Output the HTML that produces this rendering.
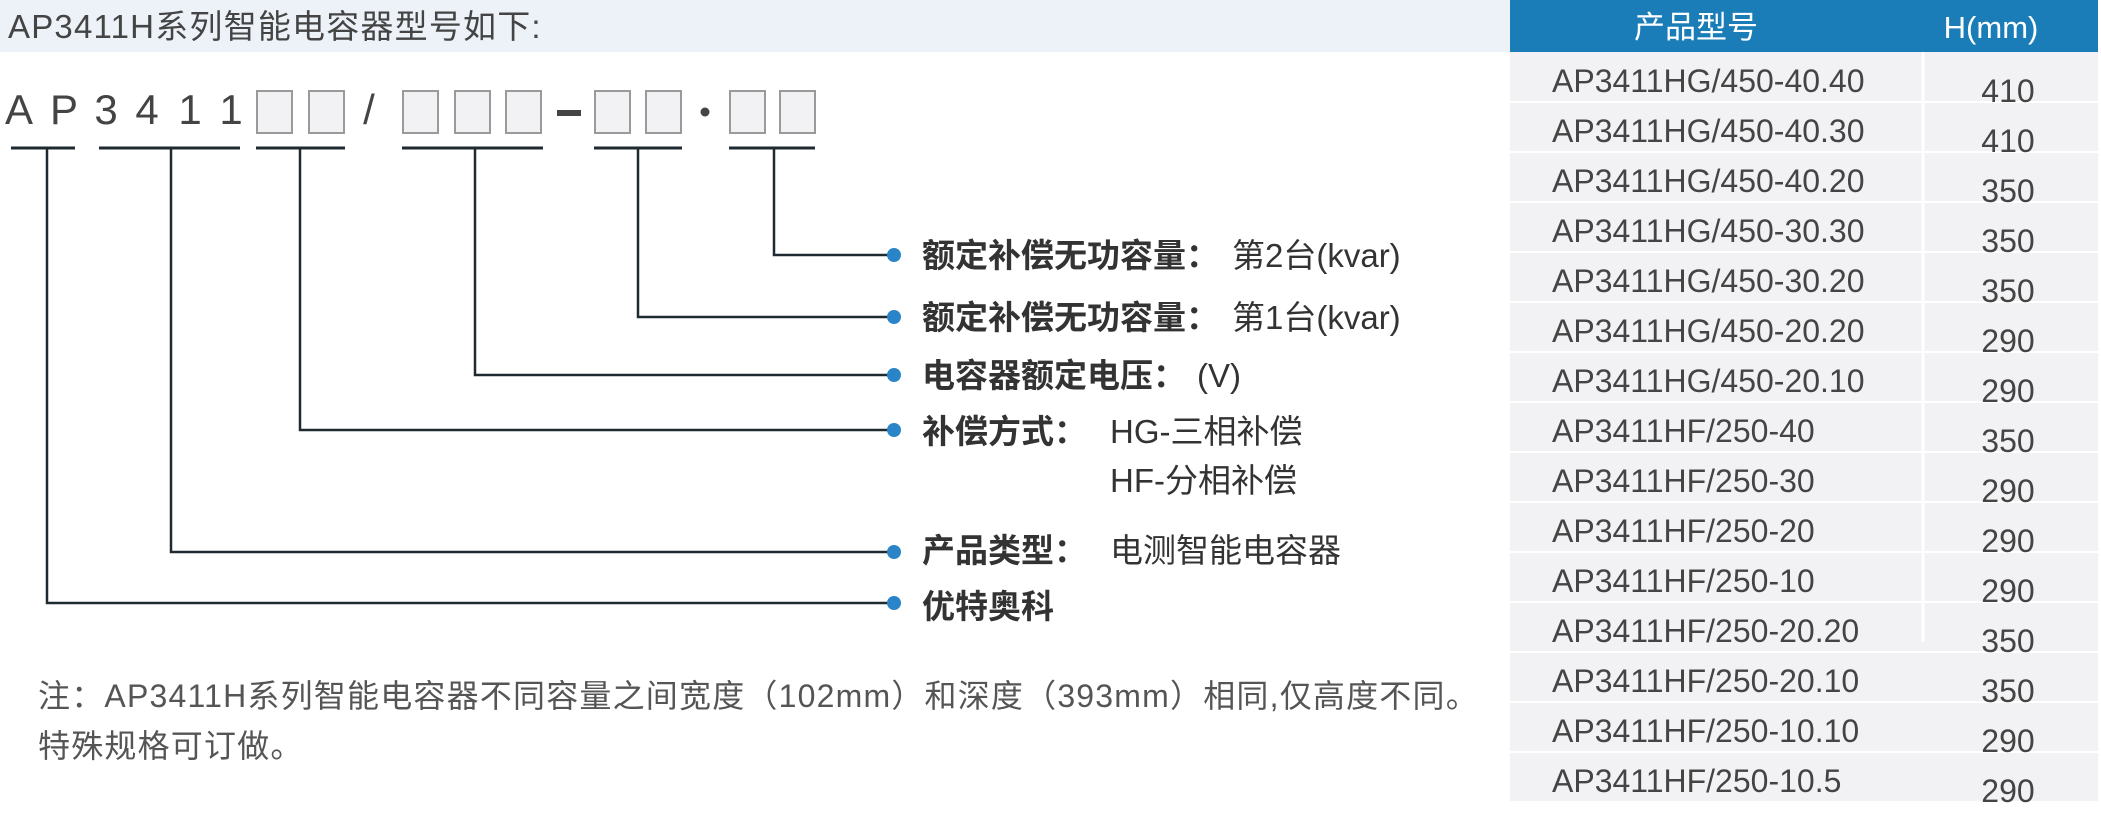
<!DOCTYPE html>
<html><head><meta charset="utf-8"><style>
html,body{margin:0;padding:0;background:#fff;}
svg{display:block;}
.t{font-family:"Liberation Sans","Noto Sans CJK SC",sans-serif;}
</style></head><body>
<svg width="2101" height="819" viewBox="0 0 2101 819" xmlns="http://www.w3.org/2000/svg">
<!-- title band -->
<rect x="0" y="0" width="1510" height="52" fill="#edf2f9"/>
<text class="t" x="8" y="38" font-size="33" letter-spacing="1.2" fill="#444">AP3411H系列智能电容器型号如下:</text>

<!-- code letters -->
<g class="t" font-size="42" fill="#444" text-anchor="middle">
<text x="19" y="124">A</text><text x="64" y="124">P</text><text x="106" y="124">3</text>
<text x="147" y="124">4</text><text x="190" y="124">1</text><text x="231" y="124">1</text>
<text x="369" y="124">/</text>
</g>
<g fill="#f2f2f4" stroke="#9a9a9a" stroke-width="2">
<rect x="257" y="91" width="35" height="42"/><rect x="309" y="91" width="35" height="42"/>
<rect x="403" y="91" width="35" height="42"/><rect x="455" y="91" width="35" height="42"/><rect x="506" y="91" width="35" height="42"/>
<rect x="595" y="91" width="35" height="42"/><rect x="646" y="91" width="35" height="42"/>
<rect x="730" y="91" width="35" height="42"/><rect x="780" y="91" width="35" height="42"/>
</g>
<rect x="557" y="110" width="24" height="6" fill="#444"/>
<circle cx="705" cy="112" r="4.5" fill="#444"/>

<!-- underlines -->
<g stroke="#1f2a30" stroke-width="3">
<line x1="11" y1="148" x2="75" y2="148"/><line x1="99" y1="148" x2="240" y2="148"/>
<line x1="256" y1="148" x2="345" y2="148"/><line x1="402" y1="148" x2="543" y2="148"/>
<line x1="594" y1="148" x2="682" y2="148"/><line x1="729" y1="148" x2="815" y2="148"/>
</g>
<g stroke="#1f2a30" stroke-width="2.5" fill="none">
<polyline points="774,148 774,255 890,255"/>
<polyline points="638,148 638,317 890,317"/>
<polyline points="475,148 475,375 890,375"/>
<polyline points="300,148 300,430 890,430"/>
<polyline points="171,148 171,552 890,552"/>
<polyline points="47,148 47,603 890,603"/>
</g>
<g fill="#2a85c8">
<circle cx="894" cy="255" r="7"/><circle cx="894" cy="317" r="7"/><circle cx="894" cy="375" r="7"/>
<circle cx="894" cy="430" r="7"/><circle cx="894" cy="552" r="7"/><circle cx="894" cy="603" r="7"/>
</g>
<g class="t" font-size="33" fill="#333">
<text x="922" y="267"><tspan font-weight="bold">额定补偿无功容量：</tspan><tspan x="1232">第2台(kvar)</tspan></text>
<text x="922" y="329"><tspan font-weight="bold">额定补偿无功容量：</tspan><tspan x="1232">第1台(kvar)</tspan></text>
<text x="922" y="387"><tspan font-weight="bold">电容器额定电压：</tspan><tspan x="1197">(V)</tspan></text>
<text x="922" y="443"><tspan font-weight="bold">补偿方式：</tspan><tspan x="1110">HG-三相补偿</tspan></text>
<text x="1110" y="492">HF-分相补偿</text>
<text x="922" y="562"><tspan font-weight="bold">产品类型：</tspan><tspan x="1110">电测智能电容器</tspan></text>
<text x="922" y="618" font-weight="bold">优特奥科</text>
</g>
<g class="t" font-size="32" fill="#555" letter-spacing="1.2">
<text x="38" y="707">注：AP3411H系列智能电容器不同容量之间宽度（102mm）和深度（393mm）相同,仅高度不同。</text>
<text x="38" y="757">特殊规格可订做。</text>
</g>

<!-- table -->
<rect x="1510" y="0" width="588" height="52" fill="#1a7db8"/>
<g class="t" font-size="31" fill="#fff" text-anchor="middle">
<text x="1696" y="38">产品型号</text><text x="1991" y="38">H(mm)</text>
</g>
<g fill="#f2f2f4">
<rect x="1510" y="52" width="588" height="49"/><rect x="1510" y="103" width="588" height="48"/>
<rect x="1510" y="153" width="588" height="48"/><rect x="1510" y="203" width="588" height="48"/>
<rect x="1510" y="253" width="588" height="48"/><rect x="1510" y="303" width="588" height="48"/>
<rect x="1510" y="353" width="588" height="48"/><rect x="1510" y="403" width="588" height="48"/>
<rect x="1510" y="453" width="588" height="48"/><rect x="1510" y="503" width="588" height="48"/>
<rect x="1510" y="553" width="588" height="48"/><rect x="1510" y="603" width="588" height="48"/>
<rect x="1510" y="653" width="588" height="48"/><rect x="1510" y="703" width="588" height="48"/>
<rect x="1510" y="753" width="588" height="48"/>
</g>
<line x1="1923" y1="52" x2="1923" y2="642" stroke="#fff" stroke-width="3"/>
<g class="t" font-size="32" fill="#444">
<text x="1552" y="92">AP3411HG/450-40.40</text>
<text x="1552" y="142">AP3411HG/450-40.30</text>
<text x="1552" y="192">AP3411HG/450-40.20</text>
<text x="1552" y="242">AP3411HG/450-30.30</text>
<text x="1552" y="292">AP3411HG/450-30.20</text>
<text x="1552" y="342">AP3411HG/450-20.20</text>
<text x="1552" y="392">AP3411HG/450-20.10</text>
<text x="1552" y="442">AP3411HF/250-40</text>
<text x="1552" y="492">AP3411HF/250-30</text>
<text x="1552" y="542">AP3411HF/250-20</text>
<text x="1552" y="592">AP3411HF/250-10</text>
<text x="1552" y="642">AP3411HF/250-20.20</text>
<text x="1552" y="692">AP3411HF/250-20.10</text>
<text x="1552" y="742">AP3411HF/250-10.10</text>
<text x="1552" y="792">AP3411HF/250-10.5</text>
</g>
<g class="t" font-size="32" fill="#444" text-anchor="middle">
<text x="2008" y="102">410</text><text x="2008" y="152">410</text><text x="2008" y="202">350</text>
<text x="2008" y="252">350</text><text x="2008" y="302">350</text><text x="2008" y="352">290</text>
<text x="2008" y="402">290</text><text x="2008" y="452">350</text><text x="2008" y="502">290</text>
<text x="2008" y="552">290</text><text x="2008" y="602">290</text><text x="2008" y="652">350</text>
<text x="2008" y="702">350</text><text x="2008" y="752">290</text><text x="2008" y="802">290</text>
</g>
</svg>
</body></html>
